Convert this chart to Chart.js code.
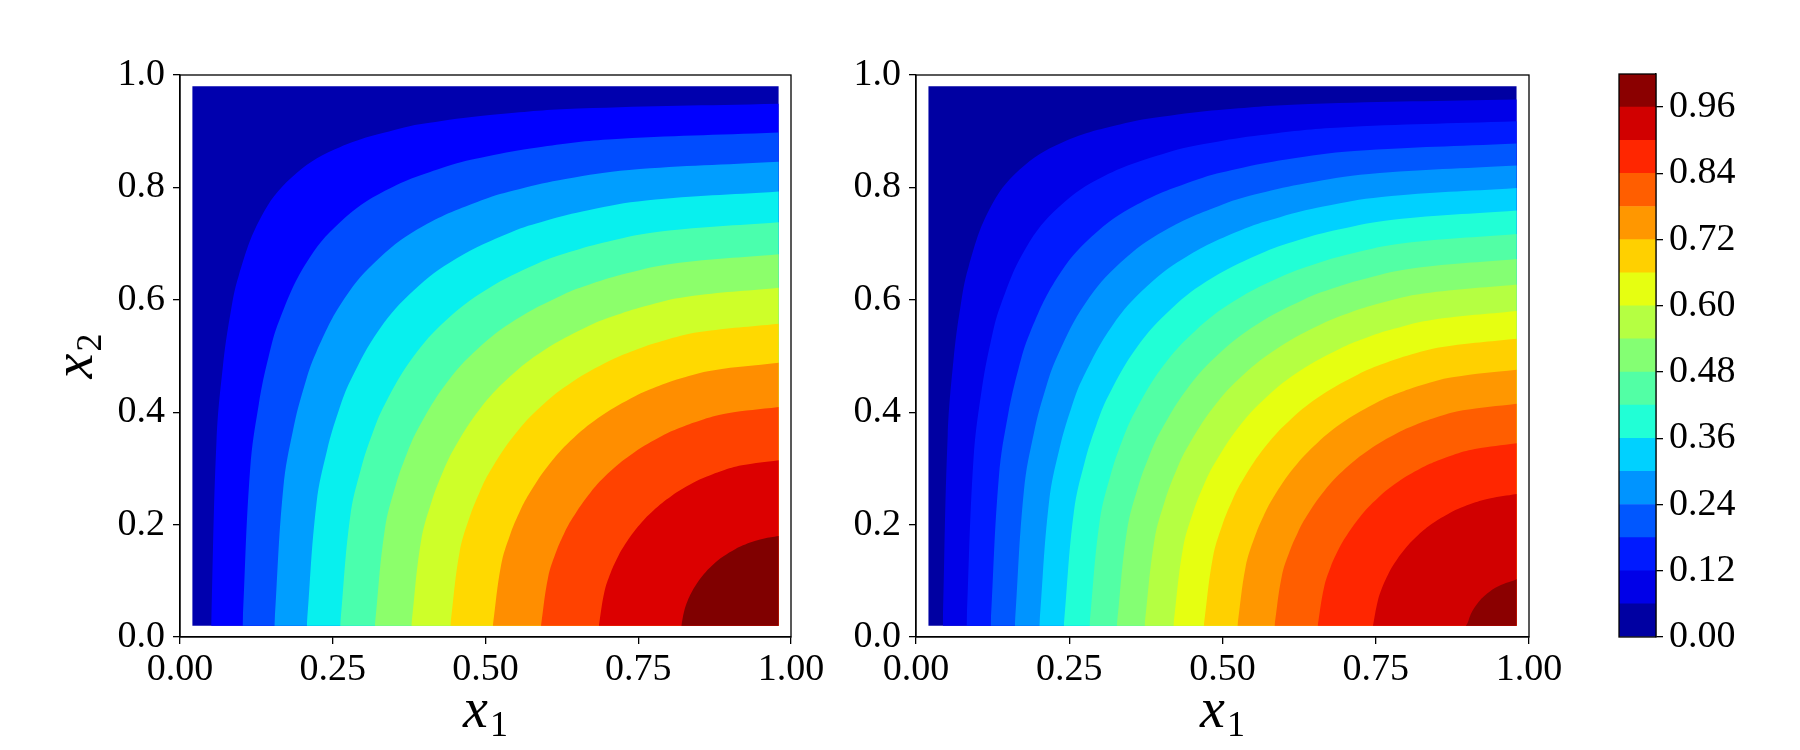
<!DOCTYPE html>
<html><head><meta charset="utf-8">
<script src="https://cdn.jsdelivr.net/npm/chart.js@4.4.1/dist/chart.umd.min.js"></script>
<style>
html,body{margin:0;padding:0;background:#fff;}
#wrap{position:relative;width:1800px;height:750px;overflow:hidden;background:#fff;}
#wrap canvas{position:absolute;left:0;top:0;}
</style></head><body>
<div id="wrap">
<canvas id="cl" width="1800" height="750"></canvas>
<canvas id="cr" width="1800" height="750"></canvas>
<canvas id="cb" width="1800" height="750"></canvas>
</div>
<script>
// ---- tick labels ----
const xTicks = [0, 0.25, 0.5, 0.75, 1];
const yTicks = [0, 0.2, 0.4, 0.6, 0.8, 1];
const cbTicks = [0, 0.12, 0.24, 0.36, 0.48, 0.6, 0.72, 0.84, 0.96];
// ---- sampled grid extent ----
const gridMin = 0.02, gridMax = 0.98;

// ---- left panel: contour levels, band colours, contour lines [x1, x2] ----
const leftLevels = [0, 0.08, 0.16, 0.24, 0.32, 0.40, 0.48, 0.56, 0.64, 0.72, 0.80, 0.88, 0.96, 1.04];
const leftColors = ['#0000ae','#0000ff','#004cff','#009eff','#08f0ee','#4affad','#8cff6b','#ceff29','#ffd900','#ff8e00','#ff4200','#dc0000','#800000'];
const leftContours = [
 [[0.0510,0.02],[0.0597,0.3483],[0.0700,0.4796],[0.0820,0.5720],[0.0961,0.6430],[0.1323,0.7464],[0.1826,0.8174],[0.2536,0.8677],[0.3570,0.9039],[0.4280,0.9180],[0.5204,0.9300],[0.6517,0.9403],[0.98,0.9490]],
 [[0.1023,0.02],[0.1148,0.2990],[0.1290,0.4147],[0.1449,0.4981],[0.1628,0.5641],[0.2061,0.6645],[0.2620,0.7380],[0.3355,0.7939],[0.4359,0.8372],[0.5019,0.8551],[0.5853,0.8710],[0.7010,0.8852],[0.98,0.8977]],
 [[0.1544,0.02],[0.1690,0.2649],[0.1852,0.3691],[0.2031,0.4452],[0.2228,0.5064],[0.2688,0.6018],[0.3259,0.6741],[0.3982,0.7312],[0.4936,0.7772],[0.5548,0.7969],[0.6309,0.8148],[0.7351,0.8310],[0.98,0.8456]],
 [[0.2075,0.02],[0.2233,0.2373],[0.2406,0.3318],[0.2594,0.4015],[0.2798,0.4581],[0.3264,0.5477],[0.3828,0.6172],[0.4523,0.6736],[0.5419,0.7202],[0.5985,0.7406],[0.6682,0.7594],[0.7627,0.7767],[0.98,0.7925]],
 [[0.2621,0.02],[0.2784,0.2133],[0.2961,0.2989],[0.3151,0.3626],[0.3355,0.4147],[0.3815,0.4980],[0.4359,0.5641],[0.5020,0.6185],[0.5853,0.6645],[0.6374,0.6849],[0.7011,0.7039],[0.7867,0.7216],[0.98,0.7379]],
 [[0.3189,0.02],[0.3352,0.1913],[0.3527,0.2686],[0.3714,0.3265],[0.3913,0.3740],[0.4356,0.4510],[0.4873,0.5127],[0.5490,0.5644],[0.6260,0.6087],[0.6735,0.6286],[0.7314,0.6473],[0.8087,0.6648],[0.98,0.6811]],
 [[0.3786,0.02],[0.3944,0.1703],[0.4113,0.2395],[0.4293,0.2915],[0.4482,0.3346],[0.4901,0.4049],[0.5383,0.4617],[0.5951,0.5099],[0.6654,0.5518],[0.7085,0.5707],[0.7605,0.5887],[0.8297,0.6056],[0.98,0.6214]],
 [[0.4424,0.02],[0.4573,0.1496],[0.4732,0.2107],[0.4900,0.2568],[0.5076,0.2952],[0.5463,0.3581],[0.5903,0.4097],[0.6419,0.4537],[0.7048,0.4924],[0.7432,0.5100],[0.7893,0.5268],[0.8504,0.5427],[0.98,0.5576]],
 [[0.5120,0.02],[0.5256,0.1284],[0.5400,0.1812],[0.5552,0.2211],[0.5712,0.2545],[0.6059,0.3096],[0.6450,0.3550],[0.6904,0.3941],[0.7455,0.4288],[0.7789,0.4448],[0.8188,0.4600],[0.8716,0.4744],[0.98,0.4880]],
 [[0.5908,0.02],[0.6024,0.1059],[0.6150,0.1497],[0.6281,0.1828],[0.6419,0.2107],[0.6715,0.2568],[0.7048,0.2952],[0.7432,0.3285],[0.7893,0.3581],[0.8172,0.3719],[0.8503,0.3850],[0.8941,0.3976],[0.98,0.4092]],
 [[0.6855,0.02],[0.6946,0.0804],[0.7045,0.1135],[0.7149,0.1388],[0.7257,0.1601],[0.7489,0.1956],[0.7748,0.2252],[0.8044,0.2511],[0.8399,0.2743],[0.8612,0.2851],[0.8865,0.2955],[0.9196,0.3054],[0.98,0.3145]],
 [[0.8204,0.02],[0.8250,0.0455],[0.8308,0.0643],[0.8369,0.0786],[0.8433,0.0908],[0.8568,0.1111],[0.8718,0.1282],[0.8889,0.1432],[0.9092,0.1567],[0.9214,0.1631],[0.9357,0.1692],[0.9545,0.1750],[0.98,0.1796]]
];

// ---- right panel ----
const rightLevels = [0, 0.06, 0.12, 0.18, 0.24, 0.30, 0.36, 0.42, 0.48, 0.54, 0.60, 0.66, 0.72, 0.78, 0.84, 0.90, 0.96, 1.02];
const rightColors = ['#0000a2','#0000e8','#001aff','#0057ff','#0094ff','#00d1ff','#21ffd6','#52ffa5','#84ff73','#b5ff42','#e6ff11','#ffd000','#ff9700','#ff5e00','#ff2600','#d10000','#8b0000'];
const rightContours = [
 [[0.0437,0.02],[0.0517,0.3583],[0.0611,0.4925],[0.0723,0.5863],[0.0856,0.6580],[0.1200,0.7614],[0.1687,0.8313],[0.2386,0.8800],[0.3420,0.9144],[0.4137,0.9277],[0.5075,0.9389],[0.6417,0.9483],[0.98,0.9563]],
 [[0.0824,0.02],[0.0937,0.3152],[0.1067,0.4363],[0.1214,0.5229],[0.1382,0.5908],[0.1795,0.6928],[0.2340,0.7660],[0.3072,0.8205],[0.4092,0.8618],[0.4771,0.8786],[0.5637,0.8933],[0.6848,0.9063],[0.98,0.9176]],
 [[0.1217,0.02],[0.1352,0.2851],[0.1503,0.3962],[0.1671,0.4768],[0.1858,0.5409],[0.2305,0.6395],[0.2871,0.7129],[0.3605,0.7695],[0.4591,0.8142],[0.5232,0.8329],[0.6038,0.8497],[0.7149,0.8648],[0.98,0.8783]],
 [[0.1612,0.02],[0.1761,0.2610],[0.1925,0.3638],[0.2106,0.4391],[0.2304,0.4997],[0.2766,0.5942],[0.3337,0.6663],[0.4058,0.7234],[0.5003,0.7696],[0.5609,0.7894],[0.6362,0.8075],[0.7390,0.8239],[0.98,0.8388]],
 [[0.2011,0.02],[0.2170,0.2404],[0.2342,0.3358],[0.2529,0.4063],[0.2733,0.4634],[0.3199,0.5536],[0.3764,0.6236],[0.4464,0.6801],[0.5366,0.7267],[0.5937,0.7471],[0.6642,0.7658],[0.7596,0.7830],[0.98,0.7989]],
 [[0.2411,0.02],[0.2575,0.2222],[0.2751,0.3109],[0.2941,0.3769],[0.3145,0.4306],[0.3609,0.5164],[0.4162,0.5838],[0.4836,0.6391],[0.5694,0.6855],[0.6231,0.7059],[0.6891,0.7249],[0.7778,0.7425],[0.98,0.7589]],
 [[0.2830,0.02],[0.2995,0.2050],[0.3172,0.2873],[0.3361,0.3488],[0.3564,0.3992],[0.4018,0.4803],[0.4553,0.5447],[0.5197,0.5982],[0.6008,0.6436],[0.6512,0.6639],[0.7127,0.6828],[0.7950,0.7005],[0.98,0.7170]],
 [[0.3276,0.02],[0.3440,0.1881],[0.3615,0.2641],[0.3801,0.3210],[0.3999,0.3679],[0.4439,0.4439],[0.4951,0.5049],[0.5561,0.5561],[0.6321,0.6001],[0.6790,0.6199],[0.7359,0.6385],[0.8119,0.6560],[0.98,0.6724]],
 [[0.3728,0.02],[0.3889,0.1723],[0.4059,0.2421],[0.4239,0.2947],[0.4430,0.3382],[0.4851,0.4090],[0.5336,0.4664],[0.5910,0.5149],[0.6618,0.5570],[0.7053,0.5761],[0.7579,0.5941],[0.8277,0.6111],[0.98,0.6272]],
 [[0.4198,0.02],[0.4353,0.1567],[0.4516,0.2205],[0.4688,0.2687],[0.4870,0.3087],[0.5268,0.3742],[0.5723,0.4277],[0.6258,0.4732],[0.6913,0.5130],[0.7313,0.5312],[0.7795,0.5484],[0.8433,0.5647],[0.98,0.5802]],
 [[0.4695,0.02],[0.4842,0.1412],[0.4995,0.1989],[0.5157,0.2426],[0.5328,0.2789],[0.5699,0.3388],[0.6120,0.3880],[0.6612,0.4301],[0.7211,0.4672],[0.7574,0.4843],[0.8011,0.5005],[0.8588,0.5158],[0.98,0.5305]],
 [[0.5243,0.02],[0.5377,0.1249],[0.5519,0.1761],[0.5668,0.2150],[0.5824,0.2474],[0.6163,0.3011],[0.6546,0.3454],[0.6989,0.3837],[0.7526,0.4176],[0.7850,0.4332],[0.8239,0.4481],[0.8751,0.4623],[0.98,0.4757]],
 [[0.5848,0.02],[0.5966,0.1077],[0.6094,0.1520],[0.6227,0.1857],[0.6366,0.2139],[0.6666,0.2607],[0.7004,0.2996],[0.7393,0.3334],[0.7861,0.3634],[0.8143,0.3773],[0.8480,0.3906],[0.8923,0.4034],[0.98,0.4152]],
 [[0.6552,0.02],[0.6656,0.0883],[0.6764,0.1247],[0.6877,0.1525],[0.6995,0.1758],[0.7248,0.2146],[0.7530,0.2470],[0.7854,0.2752],[0.8242,0.3005],[0.8475,0.3123],[0.8753,0.3236],[0.9117,0.3344],[0.98,0.3448]],
 [[0.7455,0.02],[0.7534,0.0644],[0.7616,0.0910],[0.7701,0.1114],[0.7789,0.1285],[0.7978,0.1571],[0.8189,0.1811],[0.8429,0.2022],[0.8715,0.2211],[0.8886,0.2299],[0.9090,0.2384],[0.9356,0.2466],[0.98,0.2545]],
 [[0.8970,0.02],[0.9001,0.0258],[0.9035,0.0365],[0.9070,0.0448],[0.9106,0.0517],[0.9184,0.0633],[0.9270,0.0730],[0.9367,0.0816],[0.9483,0.0894],[0.9552,0.0930],[0.9635,0.0965],[0.9742,0.0999],[0.98,0.1030]]
];

const FONT = "'Liberation Serif', 'DejaVu Serif', serif";
Chart.defaults.font.family = FONT;
Chart.defaults.font.size = 38;
Chart.defaults.color = '#000';

function contourDatasets(colors, contours) {
  const common = {borderWidth: 0, borderColor: 'rgba(0,0,0,0)', pointRadius: 0, pointHoverRadius: 0,
                  showLine: true, tension: 0.4, fill: {value: gridMin}};
  const ds = [Object.assign({}, common, {
    data: [{x: gridMin, y: gridMax}, {x: gridMax, y: gridMax}],
    backgroundColor: colors[0], order: 1, tension: 0})];
  contours.forEach((pts, i) => {
    ds.push(Object.assign({}, common, {
      data: pts.map(p => ({x: p[0], y: p[1]})),
      backgroundColor: colors[i + 1], order: -(i + 1)}));
  });
  return ds;
}

const frame = {
  id: 'frame',
  afterDraw(chart, args, opts) {
    const {ctx, chartArea: a} = chart;
    ctx.save();
    ctx.strokeStyle = '#000';
    ctx.lineWidth = 1.3;
    ctx.strokeRect(a.left, a.top, a.right - a.left, a.bottom - a.top);
    ctx.restore();
    if (opts.xlabel) drawSubLabel(ctx, (a.left + a.right) / 2, 727, 0, 'x', opts.xlabel);
    if (opts.ylabel) drawSubLabel(ctx, 92, (a.top + a.bottom) / 2, -Math.PI / 2, 'x', opts.ylabel);
  }
};

function drawSubLabel(ctx, x, y, angle, main, sub) {
  ctx.save();
  ctx.translate(x, y);
  ctx.rotate(angle);
  ctx.fillStyle = '#000';
  ctx.textBaseline = 'alphabetic';
  ctx.textAlign = 'left';
  const mf = 'italic 56px ' + FONT, sf = '36px ' + FONT;
  ctx.font = mf; const w1 = ctx.measureText(main).width;
  ctx.font = sf; const w2 = ctx.measureText(sub).width;
  const s = -(w1 + w2 + 2) / 2;
  ctx.font = mf; ctx.fillText(main, s, 0);
  ctx.font = sf; ctx.fillText(sub, s + w1 + 2, 9);
  ctx.restore();
}

function axisOpts(ticks, digits, fitKey, fitVal, pad) {
  return {
    type: 'linear', min: 0, max: 1,
    afterBuildTicks: s => { s.ticks = ticks.map(v => ({value: v})); },
    afterFit: s => { s[fitKey] = fitVal; },
    ticks: {callback: v => Number(v).toFixed(digits), autoSkip: false, maxRotation: 0, padding: pad},
    grid: {drawOnChartArea: false, drawTicks: true, tickLength: 7, color: '#000', lineWidth: 1.3},
    border: {display: true, color: '#000', width: 1.3}
  };
}

function panel(id, colors, contours, left, right, showY) {
  return new Chart(document.getElementById(id), {
    type: 'scatter',
    data: {datasets: contourDatasets(colors, contours)},
    options: {
      responsive: false, animation: false, devicePixelRatio: 1,
      layout: {padding: {left: left - 180, right: 1800 - right, top: 75, bottom: 0}},
      scales: {
        x: axisOpts(xTicks, 2, 'height', 113, 3),
        y: axisOpts(yTicks, 1, 'width', 180, 8)
      },
      plugins: {legend: {display: false}, tooltip: {enabled: false},
                frame: {xlabel: '1', ylabel: showY ? '2' : null}}
    },
    plugins: [frame]
  });
}

panel('cl', leftColors, leftContours, 180, 791, true);
panel('cr', rightColors, rightContours, 916, 1529, false);

// ---- colour bar ----
new Chart(document.getElementById('cb'), {
  type: 'bar',
  data: {
    labels: [''],
    datasets: rightColors.map((c, k) => ({
      data: [[rightLevels[k], rightLevels[k + 1]]],
      backgroundColor: c, borderWidth: 0, barPercentage: 1, categoryPercentage: 1
    }))
  },
  options: {
    responsive: false, animation: false, devicePixelRatio: 1,
    layout: {padding: {left: 1619, right: 0, top: 74, bottom: 113}},
    scales: {
      x: {display: false, stacked: true},
      y: {
        position: 'right', min: 0, max: rightLevels[rightLevels.length - 1],
        afterBuildTicks: s => { s.ticks = cbTicks.map(v => ({value: v})); },
        afterFit: s => { s.width = 144; },
        ticks: {callback: v => Number(v).toFixed(2), autoSkip: false, padding: 6},
        grid: {drawOnChartArea: false, drawTicks: true, tickLength: 7, color: '#000', lineWidth: 1.3},
        border: {display: true, color: '#000', width: 1.3}
      }
    },
    plugins: {legend: {display: false}, tooltip: {enabled: false}, frame: {}}
  },
  plugins: [frame]
});
</script>
</body></html>
